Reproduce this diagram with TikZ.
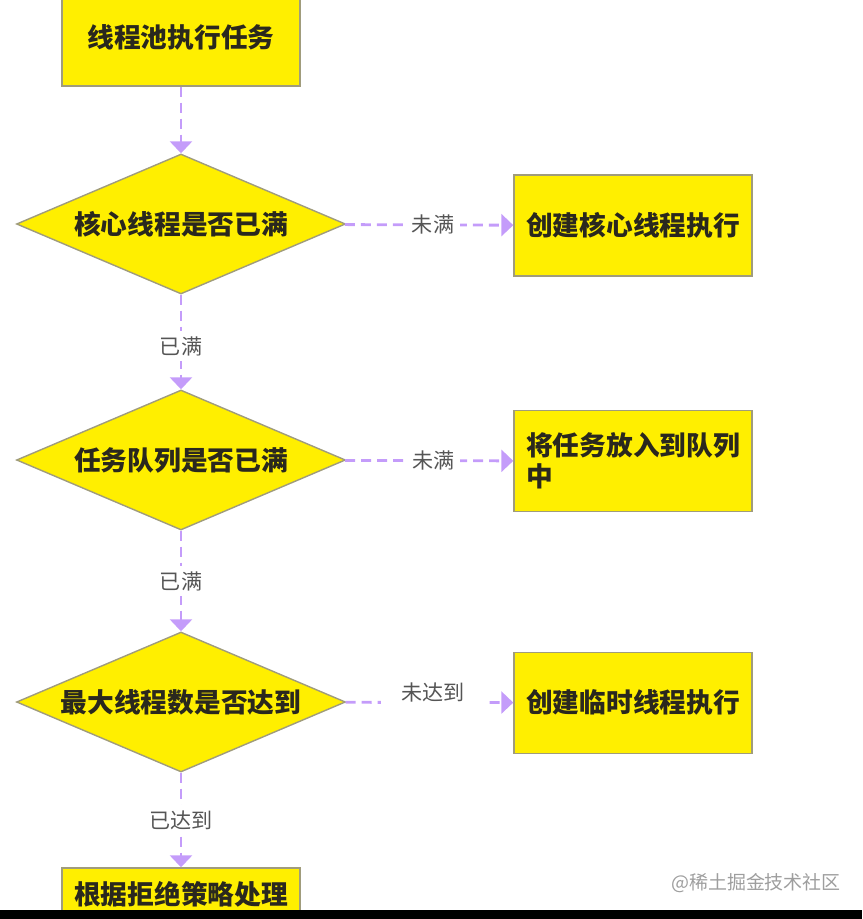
\documentclass[tikz,border=0pt]{standalone}
\usepackage{fontspec}
\usepackage{tikz}
\usepackage{xcolor}
\usetikzlibrary{arrows.meta,positioning,shapes.geometric}
\newfontfamily\cjk{Noto Sans CJK SC}
\definecolor{boxyellow}{HTML}{FFEF00}
\definecolor{boxedge}{HTML}{A09C7C}
\definecolor{flowline}{HTML}{C49CFA}
\definecolor{boxtext}{HTML}{2A281E}
\definecolor{labeltext}{HTML}{555555}

\begin{document}
\begin{tikzpicture}[
  taskbox/.style={rectangle, draw=boxedge, line width=1pt, fill=boxyellow,
                  minimum width=5.95cm, minimum height=2.525cm, inner sep=0pt,
                  text=boxtext, font=\cjk\bfseries\fontsize{19}{22}\selectfont},
  checkbox/.style={diamond, draw=boxedge, line width=1pt, fill=boxyellow,
                   minimum width=8.225cm, minimum height=3.5cm, aspect=2.35,
                   inner sep=0pt, text=boxtext,
                   font=\cjk\bfseries\fontsize{19}{22}\selectfont},
  flow/.style={draw=flowline, line width=2pt,
               dash pattern=on 0.25cm off 0.15cm,
               -{Triangle[width=0.55cm, length=0.3cm]}},
  flowlabel/.style={fill=white, text=labeltext, inner sep=4pt,
                    font=\cjk\fontsize{15}{18}\selectfont},
]
\useasboundingbox (0,0) rectangle (21.55,-22.975);

% Main column
\node[taskbox, minimum height=2.45cm] (start) at (4.525,-0.925) {线程池执行任务};
\node[checkbox] (core)   at (4.525,-5.6)   {核心线程是否已满};
\node[checkbox] (queue)  at (4.525,-11.5)  {任务队列是否已满};
\node[checkbox] (maxth)  at (4.525,-17.55) {最大线程数是否达到};
\node[taskbox, minimum height=1.3cm] (reject) at (4.525,-22.35) {根据拒绝策略处理};

% Right column
\node[taskbox] (mkcore)  at (15.825,-5.64)  {创建核心线程执行};
\node[taskbox, align=left] (enqueue) at (15.825,-11.53) {将任务放入到队列\\中};
\node[taskbox] (mktemp)  at (15.825,-17.57) {创建临时线程执行};

% Connectors
\draw[flow] (start) -- (core);
\draw[flow] (core) -- node[flowlabel, yshift=-0.1cm] {已满} (queue);
\draw[flow] (queue) -- node[flowlabel] {已满} (maxth);
\draw[flow] (maxth) -- node[flowlabel] {已达到} (reject);
\draw[flow] (core) -- node[flowlabel, xshift=0.1cm] {未满} (mkcore);
\draw[flow] (queue) -- node[flowlabel, xshift=0.1cm] {未满} (enqueue);
\draw[flow] (maxth) -- node[flowlabel, xshift=0.1cm, yshift=0.25cm,
                            minimum height=1.1cm, minimum width=2.6cm] {未达到} (mktemp);

% Screen bottom
\fill[black] (0,-22.75) rectangle (21.55,-22.975);
\node[text=black!38, font=\cjk\fontsize{13.5}{16}\selectfont] (mark) at (18.9,-22.08) {@稀土掘金技术社区};

\end{tikzpicture}
\end{document}
